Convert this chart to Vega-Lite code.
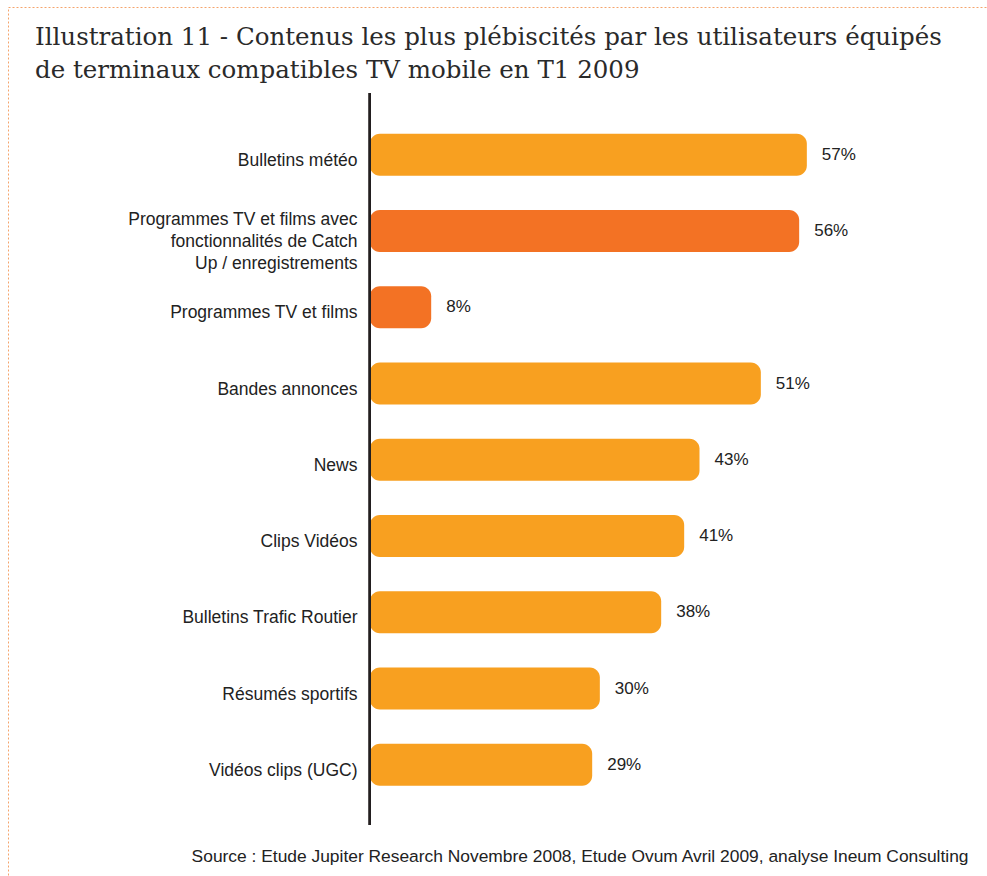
{
  "$schema": "https://vega.github.io/schema/vega-lite/v6.json",
  "autosize": "none",
  "width": 979,
  "height": 869,
  "padding": {"left": 8, "top": 7, "right": 0, "bottom": 0},
  "background": "#ffffff",
  "title": {
    "text": ["Illustration 11 - Contenus les plus plébiscités par les utilisateurs équipés", "de terminaux compatibles TV mobile en T1 2009"],
    "anchor": "start",
    "frame": "group",
    "orient": "top",
    "baseline": "top",
    "offset": 0,
    "dx": 27,
    "dy": 76,
    "font": "DejaVu Serif",
    "fontSize": 24.5,
    "fontWeight": "normal",
    "color": "#2a2a2a",
    "lineHeight": 33
  },
  "data": {
    "values": [
      {"contenu": "Bulletins météo", "valeur": 57, "texte": "57%", "groupe": "autre"},
      {"contenu": "Programmes TV et films avec|fonctionnalités de Catch|Up / enregistrements", "valeur": 56, "texte": "56%", "groupe": "TV"},
      {"contenu": "Programmes TV et films", "valeur": 8, "texte": "8%", "groupe": "TV"},
      {"contenu": "Bandes annonces", "valeur": 51, "texte": "51%", "groupe": "autre"},
      {"contenu": "News", "valeur": 43, "texte": "43%", "groupe": "autre"},
      {"contenu": "Clips Vidéos", "valeur": 41, "texte": "41%", "groupe": "autre"},
      {"contenu": "Bulletins Trafic Routier", "valeur": 38, "texte": "38%", "groupe": "autre"},
      {"contenu": "Résumés sportifs", "valeur": 30, "texte": "30%", "groupe": "autre"},
      {"contenu": "Vidéos clips (UGC)", "valeur": 29, "texte": "29%", "groupe": "autre"}
    ]
  },
  "layer": [
    {
      "encoding": {
        "y": {
          "field": "contenu",
          "type": "nominal",
          "sort": null,
          "scale": {"range": [86, 818], "paddingInner": 0.449, "paddingOuter": 0.525, "align": 0.51},
          "axis": {
            "orient": "left",
            "offset": -362,
            "title": null,
            "domain": false,
            "ticks": false,
            "grid": false,
            "labelPadding": 13,
            "labelOffset": {"condition": {"test": "indexof(datum.value, '|') >= 0", "value": -11}, "value": 6},
            "labelFont": "Liberation Sans",
            "labelFontSize": 17.5,
            "labelColor": "#222222",
            "labelLimit": 400,
            "labelLineHeight": 22,
            "labelExpr": "split(datum.label, '|')"
          }
        },
        "x": {
          "field": "valeur",
          "type": "quantitative",
          "scale": {"domain": [-47.2, 80.5], "nice": false, "zero": false},
          "axis": {
            "orient": "bottom",
            "domain": false,
            "ticks": false,
            "labels": false,
            "grid": false,
            "title": "Source : Etude Jupiter Research Novembre 2008, Etude Ovum Avril 2009, analyse Ineum Consulting",
            "titleFont": "Liberation Sans",
            "titleFontSize": 17.4,
            "titleFontWeight": "normal",
            "titleColor": "#222222",
            "titleAlign": "right",
            "titleAnchor": "end",
            "titleBaseline": "alphabetic",
            "titleX": 960,
            "titleY": -15
          }
        }
      },
      "layer": [
        {
          "mark": {"type": "bar", "cornerRadius": 10},
          "encoding": {
            "x2": {"datum": 0},
            "color": {
              "field": "groupe",
              "type": "nominal",
              "scale": {"domain": ["autre", "TV"], "range": ["#F8A020", "#F37224"]},
              "legend": null
            }
          }
        },
        {
          "mark": {"type": "text", "align": "left", "baseline": "middle", "dx": 15, "font": "Liberation Sans", "fontSize": 17, "color": "#222222"},
          "encoding": {"text": {"field": "texte"}}
        }
      ]
    },
    {
      "mark": {"type": "rule", "color": "#231F20", "strokeWidth": 2},
      "encoding": {
        "x": {"datum": 0, "type": "quantitative"},
        "y": {"datum": 0, "type": "quantitative", "scale": {"domain": [-0.0697, 1.1174], "nice": false, "zero": false}, "axis": null},
        "y2": {"datum": 1}
      }
    }
  ],
  "resolve": {"scale": {"y": "independent"}, "axis": {"y": "independent"}},
  "config": {
    "view": {"stroke": "#F5A46C", "strokeDash": [2, 2], "strokeWidth": 1}
  }
}
